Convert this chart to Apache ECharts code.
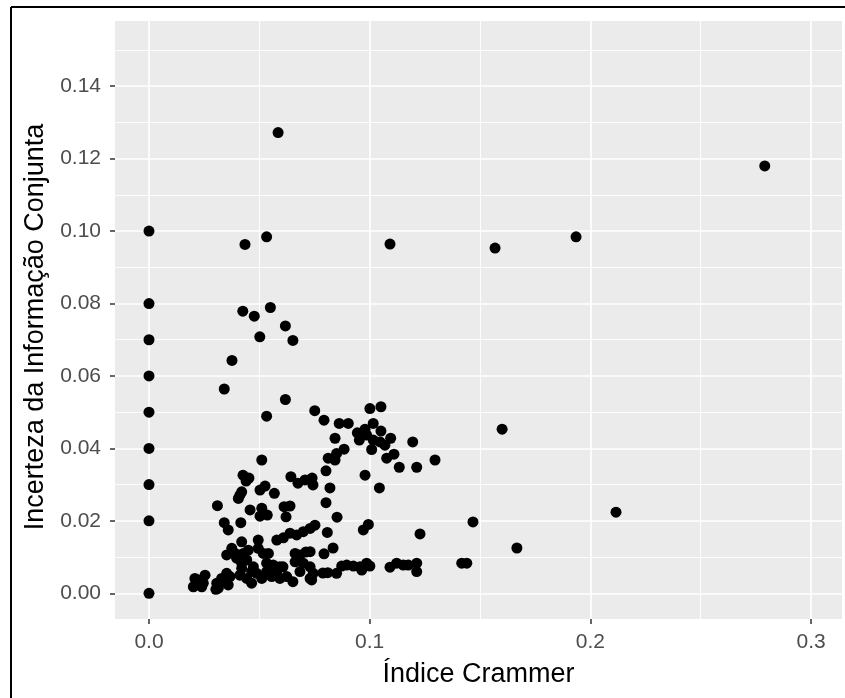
<!DOCTYPE html>
<html>
<head>
<meta charset="utf-8">
<script src="https://cdn.jsdelivr.net/npm/echarts@6/dist/echarts.min.js"></script>
<style>html,body{margin:0;padding:0;background:#fff;}#c{width:845px;height:698px;}</style>
</head>
<body>
<div id="c"></div>
<script>
// Data: [Índice Crammer, Incerteza da Informação Conjunta]
const colZeroY = [0.00, 0.02, 0.03, 0.04, 0.05, 0.06, 0.07, 0.08, 0.10];
const pointsX = [
 0.0585,0.279,0.0435,0.0533,0.1092,0.1568,0.1935,0.0425,0.0477,0.055,
 0.0618,0.0502,0.0652,0.0376,0.0341,0.0618,0.0533,0.0751,0.0793,0.1001,
 0.1051,0.0862,0.0903,0.1016,0.1051,0.0944,0.0979,0.0986,0.0953,0.1016,
 0.1047,0.1095,0.1069,0.1009,0.1195,0.0843,0.0884,0.0850,0.0812,0.0843,
 0.0802,0.1077,0.1110,0.1134,0.1213,0.1296,0.0979,0.0820,0.1044,0.160,
 0.1468,0.1667,0.1417,0.1440,0.2116,0.0511,0.0426,0.0453,0.0440,0.0643,
 0.0675,0.0707,0.0739,0.0743,0.0420,0.0503,0.0526,0.0568,0.0405,0.0310,
 0.0458,0.0511,0.0503,0.0536,0.0639,0.0621,0.0612,0.0341,0.0359,0.0416,
 0.0802,0.0852,0.0808,0.0971,0.0994,0.1228,0.0579,0.0609,0.0639,0.0669,
 0.0699,0.0730,0.0752,0.0834,0.0793,0.0662,0.0730,0.0684,0.0662,0.0699,
 0.0730,0.0607,0.0744,0.0684,0.0730,0.0788,0.0737,0.0624,0.0652,0.0593,
 0.0556,0.0579,0.0533,0.0511,0.0488,0.0465,0.0465,0.0443,0.0420,0.0412,
 0.0367,0.0359,0.0329,0.0307,0.0303,0.0352,0.0201,0.0223,0.0254,0.0246,
 0.0208,0.0239,0.0352,0.0375,0.0390,0.0420,0.0397,0.0427,0.0450,0.0443,
 0.0495,0.0495,0.0518,0.0541,0.0473,0.0420,0.0533,0.0563,0.0593,0.0711,
 0.0810,0.0850,0.0873,0.0896,0.0926,0.0956,0.0964,0.0986,0.1001,0.1092,
 0.1122,0.1152,0.1175,0.1213,0.1213,0.0412,0.0314,0.0344
];
const pointsY = [
 0.1272,0.118,0.0963,0.0984,0.0964,0.0953,0.0984,0.0779,0.0765,0.0789,
 0.0738,0.0708,0.0698,0.0643,0.0564,0.0535,0.0489,0.0504,0.0478,0.0510,
 0.0515,0.0469,0.0469,0.0469,0.0448,0.0443,0.0453,0.0437,0.0423,0.0423,
 0.0418,0.0428,0.0409,0.0397,0.0418,0.0428,0.0398,0.0386,0.0373,0.0368,
 0.0338,0.0373,0.0384,0.0348,0.0348,0.0368,0.0326,0.0291,0.0291,0.0453,
 0.0197,0.0125,0.0083,0.0083,0.0224,0.0368,0.0326,0.0318,0.0310,0.0322,
 0.0304,0.0313,0.0318,0.0299,0.0280,0.0285,0.0296,0.0276,0.0262,0.0242,
 0.0230,0.0235,0.0213,0.0216,0.0241,0.0211,0.0239,0.0195,0.0175,0.0195,
 0.0250,0.0210,0.0168,0.0175,0.0190,0.0164,0.0147,0.0153,0.0166,0.0161,
 0.0170,0.0179,0.0188,0.0125,0.0109,0.0110,0.0115,0.0106,0.0087,0.0083,
 0.0073,0.0073,0.0055,0.0060,0.0041,0.0056,0.0037,0.0046,0.0032,0.0041,
 0.0046,0.0060,0.0060,0.0041,0.0055,0.0028,0.0060,0.0041,0.0069,0.0050,
 0.0046,0.0023,0.0041,0.0028,0.0011,0.0055,0.0018,0.0037,0.0050,0.0028,
 0.0041,0.0018,0.0106,0.0124,0.0110,0.0142,0.0097,0.0110,0.0119,0.0092,
 0.0147,0.0124,0.0110,0.0110,0.0073,0.0083,0.0083,0.0078,0.0073,0.0114,
 0.0057,0.0055,0.0075,0.0078,0.0075,0.0073,0.0064,0.0083,0.0075,0.0072,
 0.0083,0.0078,0.0078,0.0083,0.0060,0.0271,0.0014,0.0032
];
const xTicks = [0.0, 0.1, 0.2, 0.3];
const xMinor = [0.05, 0.15, 0.25];
const yTicks = [0.00, 0.02, 0.04, 0.06, 0.08, 0.10, 0.12, 0.14];
const yMinor = [0.01, 0.03, 0.05, 0.07, 0.09, 0.11, 0.13, 0.15];
const xTitle = 'Índice Crammer';
const yTitle = 'Incerteza da Informação Conjunta';

const data = colZeroY.map(y => [0, y]).concat(pointsX.map((x, i) => [x, pointsY[i]]));

const FONT = 'Liberation Sans, Arial, sans-serif';
const major = {color: '#ffffff', width: 1.7, type: 'solid'};
const minor = {color: '#ffffff', width: 0.9, type: 'solid'};
const gridLines = []
  .concat(xMinor.map(v => ({xAxis: v, lineStyle: minor})))
  .concat(yMinor.map(v => ({yAxis: v, lineStyle: minor})))
  .concat(xTicks.map(v => ({xAxis: v, lineStyle: major})))
  .concat(yTicks.map(v => ({yAxis: v, lineStyle: major})));

const chart = echarts.init(document.getElementById('c'), null, {renderer: 'canvas'});
chart.setOption({
  animation: false,
  backgroundColor: '#ffffff',
  textStyle: {fontFamily: FONT},
  grid: {left: 115, top: 21, right: 3, bottom: 79, show: true, backgroundColor: '#EBEBEB', borderWidth: 0, containLabel: false},
  xAxis: {
    type: 'value', min: -0.0154, max: 0.314,
    splitLine: {show: false}, axisLine: {show: false, onZero: false},
    axisTick: {show: true, customValues: xTicks, length: 5, lineStyle: {color: '#333333', width: 1.5}},
    axisLabel: {customValues: xTicks, formatter: v => v.toFixed(1), fontSize: 21, color: '#4D4D4D', margin: 13, fontFamily: FONT},
    name: xTitle, nameLocation: 'middle', nameGap: 42,
    nameTextStyle: {fontSize: 27, color: '#000000', fontFamily: FONT}
  },
  yAxis: {
    type: 'value', min: -0.0071, max: 0.158,
    splitLine: {show: false}, axisLine: {show: false, onZero: false},
    axisTick: {show: true, customValues: yTicks, length: 5, lineStyle: {color: '#333333', width: 1.5}},
    axisLabel: {customValues: yTicks, formatter: v => v.toFixed(2), fontSize: 21, color: '#4D4D4D', margin: 14, fontFamily: FONT},
    name: yTitle, nameLocation: 'middle', nameGap: 57, nameRotate: 90,
    nameTextStyle: {fontSize: 27, color: '#000000', fontFamily: FONT, padding: [0, 14, 0, 0]}
  },
  graphic: [
    {type: 'line', shape: {x1: 11, y1: 7, x2: 845, y2: 7}, style: {stroke: '#000', lineWidth: 2}, z: 100},
    {type: 'line', shape: {x1: 11, y1: 7, x2: 11, y2: 698}, style: {stroke: '#000', lineWidth: 2}, z: 100}
  ],
  series: [
    {
      type: 'scatter', data: [], z: 1, silent: true,
      markLine: {silent: true, symbol: ['none', 'none'], label: {show: false}, animation: false, data: gridLines}
    },
    {
      type: 'scatter', data: data, z: 5, symbol: 'circle', symbolSize: 11,
      itemStyle: {color: '#000000', opacity: 1}
    }
  ]
});
</script>
</body>
</html>
